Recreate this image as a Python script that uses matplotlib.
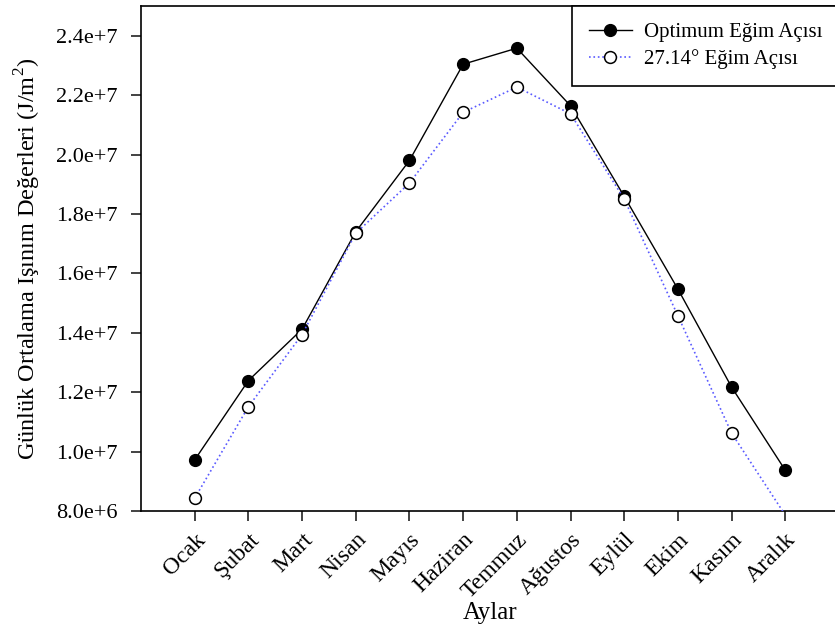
import matplotlib
matplotlib.use('Agg')
import matplotlib.pyplot as plt

plt.rcParams['font.family'] = ['Liberation Serif', 'DejaVu Serif']
plt.rcParams['mathtext.fontset'] = 'custom'
plt.rcParams['mathtext.rm'] = 'Liberation Serif'

months = ['Ocak', 'Şubat', 'Mart', 'Nisan', 'Mayıs', 'Haziran',
          'Temmuz', 'Ağustos', 'Eylül', 'Ekim', 'Kasım', 'Aralık']
optimum = [9.72e6, 12.39e6, 14.12e6, 17.40e6, 19.80e6, 23.04e6,
           23.58e6, 21.64e6, 18.59e6, 15.47e6, 12.17e6, 9.37e6]
fixed_2714 = [8.43e6, 11.51e6, 13.94e6, 17.35e6, 19.04e6, 21.42e6,
              22.27e6, 21.37e6, 18.50e6, 14.57e6, 10.62e6, 7.86e6]
y_ticks = [8.0e6, 1.0e7, 1.2e7, 1.4e7, 1.6e7, 1.8e7, 2.0e7, 2.2e7, 2.4e7]
y_tick_labels = ['8.0e+6', '1.0e+7', '1.2e+7', '1.4e+7', '1.6e+7',
                 '1.8e+7', '2.0e+7', '2.2e+7', '2.4e+7']
y_min, y_max = 8.0e6, 2.5e7

fig = plt.figure(figsize=(8.35, 6.3), dpi=100)
# axes box runs slightly past the right edge of the canvas
ax = fig.add_axes([141 / 835, 1 - 511 / 630, (839 - 141) / 835, (511 - 6) / 630])

x = list(range(1, len(months) + 1))
# points below the y range get no symbol, only the line runs out
shown = [i for i, v in enumerate(fixed_2714) if v >= y_min]

ax.plot(x, optimum, color='black', linewidth=1.0, marker='o', markersize=8.5,
        markerfacecolor='black', markeredgecolor='black',
        label='Optimum Eğim Açısı', zorder=3)
ax.plot(x, fixed_2714, color='#5a5aff', linewidth=1.2, linestyle=':', marker='o',
        markersize=8.5, markerfacecolor='white', markeredgecolor='black',
        markeredgewidth=1.1, markevery=shown, label='27.14° Eğim Açısı', zorder=4)

ax.set_xlim(0, 13)
ax.set_ylim(y_min, y_max)
ax.set_xticks(x)
ax.set_xticklabels(months, rotation=45, ha='right', rotation_mode='anchor', fontsize=17)
ax.set_yticks(y_ticks)
ax.set_yticklabels(y_tick_labels, fontsize=16)
ax.tick_params(direction='out', length=7, width=1.2, color='#222222')
ax.tick_params(axis='y', pad=10)
ax.tick_params(axis='x', pad=6)
for side in ax.spines.values():
    side.set_linewidth(1.2)

ax.set_xlabel('Aylar', fontsize=18, labelpad=0)
ax.set_ylabel('Günlük Ortalama Işınım Değerleri (J/m$^2$)', fontsize=17.5, labelpad=9)

leg = ax.legend(loc='upper right', bbox_to_anchor=(1, 1), borderaxespad=0,
                fancybox=False, edgecolor='black', framealpha=1, fontsize=15,
                handlelength=2.1, handletextpad=0.55, borderpad=0.8,
                labelspacing=0.35)
leg.get_frame().set_linewidth(1.2)

fig.savefig('out.png', dpi=100)
